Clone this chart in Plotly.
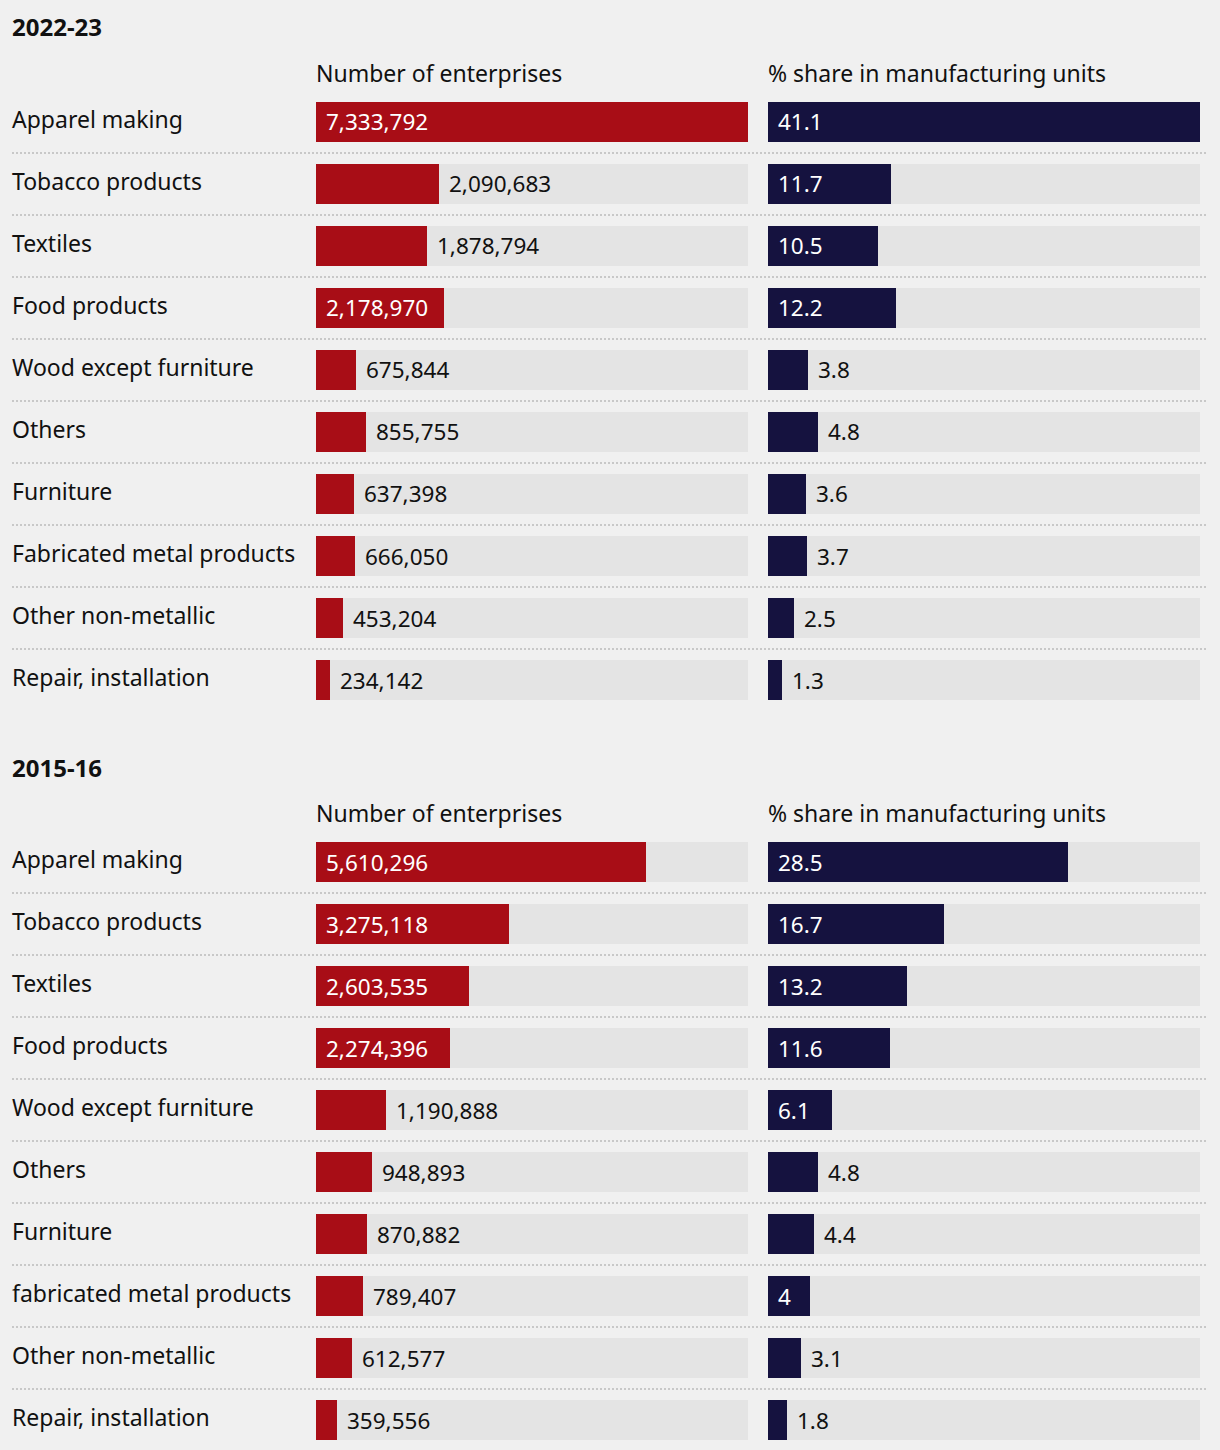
import plotly.graph_objects as go

# ---------------- data ----------------
SECTIONS = ["2022-23", "2015-16"]
COL_HEADERS = ["Number of enterprises", "% share in manufacturing units"]

categories_2022 = ["Apparel making", "Tobacco products", "Textiles", "Food products",
                   "Wood except furniture", "Others", "Furniture",
                   "Fabricated metal products", "Other non-metallic", "Repair, installation"]
enterprises_2022 = [7333792, 2090683, 1878794, 2178970, 675844, 855755, 637398, 666050, 453204, 234142]
share_2022 = [41.1, 11.7, 10.5, 12.2, 3.8, 4.8, 3.6, 3.7, 2.5, 1.3]

categories_2015 = ["Apparel making", "Tobacco products", "Textiles", "Food products",
                   "Wood except furniture", "Others", "Furniture",
                   "fabricated metal products", "Other non-metallic", "Repair, installation"]
enterprises_2015 = [5610296, 3275118, 2603535, 2274396, 1190888, 948893, 870882, 789407, 612577, 359556]
share_2015 = [28.5, 16.7, 13.2, 11.6, 6.1, 4.8, 4.4, 4, 3.1, 1.8]

# ---------------- style ----------------
W, H = 1220, 1450
BG = "#f0f0f0"
TRACK = "#e4e4e4"
RED = "#a80d16"
NAVY = "#15123f"
TEXT = "#111111"
SEP = "#c8c8c8"
FONT = "Noto Sans"
FS_VAL = 22.5
FS_LAB = 23
FS_TITLE = 24
BAR_PX = 40
PITCH = 62
BAR_W = BAR_PX / PITCH
HALF = BAR_W / 2

RED_COL = (316, 748)
NAVY_COL = (768, 1200)
SECTION_BAR_TOP = [102, 842]
TITLE_Y = [27, 767]
HEADER_Y = [73, 813]


def py(px):
    return 1 - px / H


def px_x(px):
    return px / W


def fmt_int(v):
    return f"{v:,}"


def fmt_share(v):
    return f"{v:g}"


def text_w(s):
    return sum(5.3 if c in ",." else 12.9 for c in s)


fig = go.Figure()

data = [
    (categories_2022, enterprises_2022, share_2022),
    (categories_2015, enterprises_2015, share_2015),
]
RED_MAX = max(enterprises_2022 + enterprises_2015)
NAVY_MAX = max(share_2022 + share_2015)

annotations = []
shapes = []

for s, (cats, ents, shares) in enumerate(data):
    yname = "y" if s == 0 else "y2"
    xr = "x" if s == 0 else "x3"
    xn = "x2" if s == 0 else "x4"
    n = len(cats)
    pos = list(range(n))

    for xa, vals, vmax, color, fmt, col in [
        (xr, ents, RED_MAX, RED, fmt_int, RED_COL),
        (xn, shares, NAVY_MAX, NAVY, fmt_share, NAVY_COL),
    ]:
        fig.add_trace(go.Bar(x=[vmax] * n, y=pos, orientation="h", width=BAR_W,
                             marker=dict(color=TRACK, line=dict(width=0)),
                             xaxis=xa, yaxis=yname, hoverinfo="skip", showlegend=False))
        fig.add_trace(go.Bar(x=vals, y=pos, orientation="h", width=BAR_W,
                             marker=dict(color=color, line=dict(width=0)),
                             xaxis=xa, yaxis=yname, showlegend=False,
                             hovertemplate="%{x}<extra></extra>"))
        colw = col[1] - col[0]
        for i, v in enumerate(vals):
            t = fmt(v)
            bar_px = v / vmax * colw
            inside = bar_px >= text_w(t) + 24
            annotations.append(dict(
                x=0 if inside else v, y=i, xref=xa, yref=yname,
                text=t, showarrow=False, xanchor="left", yanchor="middle",
                xshift=8 if inside else 8,
                font=dict(family=FONT, size=FS_VAL, color="white" if inside else TEXT),
            ))

    # row labels
    for i, c in enumerate(cats):
        annotations.append(dict(
            x=px_x(12), y=i, xref="paper", yref=yname, text=c, showarrow=False,
            xanchor="left", yanchor="middle", yshift=3, xshift=-2,
            font=dict(family=FONT, size=FS_LAB, color=TEXT),
        ))
    # separators
    for i in range(n - 1):
        shapes.append(dict(type="line", xref="paper", yref=yname,
                           x0=px_x(12), x1=px_x(1208), y0=i + 0.5, y1=i + 0.5,
                           line=dict(color=SEP, width=2, dash="2px,2px")))

    # titles and headers
    annotations.append(dict(
        x=px_x(12), y=py(TITLE_Y[s]), xref="paper", yref="paper", text=f"<b>{SECTIONS[s]}</b>",
        showarrow=False, xanchor="left", yanchor="middle", xshift=-2,
        font=dict(family=FONT, size=FS_TITLE, color=TEXT)))
    for col, hdr in zip([RED_COL, NAVY_COL], COL_HEADERS):
        annotations.append(dict(
            x=px_x(col[0]), y=py(HEADER_Y[s]), xref="paper", yref="paper", text=hdr,
            showarrow=False, xanchor="left", yanchor="middle", xshift=-2,
            font=dict(family=FONT, size=FS_LAB, color=TEXT)))

n_rows = len(categories_2022)
yrange = [n_rows - 1 + HALF, -HALF]


def ydom(top):
    bottom = top + (n_rows - 1) * PITCH + BAR_PX
    return [py(bottom), py(top)]


xaxis_common = dict(visible=False, fixedrange=True, showgrid=False, zeroline=False)
fig.update_layout(
    width=W, height=H,
    margin=dict(l=0, r=0, t=0, b=0),
    paper_bgcolor=BG, plot_bgcolor="rgba(0,0,0,0)",
    barmode="overlay", bargap=0,
    font=dict(family=FONT, size=FS_VAL, color=TEXT),
    xaxis=dict(domain=[px_x(RED_COL[0]), px_x(RED_COL[1])], range=[0, RED_MAX], anchor="y", **xaxis_common),
    xaxis2=dict(domain=[px_x(NAVY_COL[0]), px_x(NAVY_COL[1])], range=[0, NAVY_MAX], anchor="y", **xaxis_common),
    xaxis3=dict(domain=[px_x(RED_COL[0]), px_x(RED_COL[1])], range=[0, RED_MAX], anchor="y2", **xaxis_common),
    xaxis4=dict(domain=[px_x(NAVY_COL[0]), px_x(NAVY_COL[1])], range=[0, NAVY_MAX], anchor="y2", **xaxis_common),
    yaxis=dict(domain=ydom(SECTION_BAR_TOP[0]), range=yrange, **xaxis_common),
    yaxis2=dict(domain=ydom(SECTION_BAR_TOP[1]), range=yrange, **xaxis_common),
    annotations=annotations,
    shapes=shapes,
    hovermode="closest",
)

fig.write_html(
    "out.html",
    config={"displayModeBar": False},
    post_script="document.body.style.margin='0';document.body.style.background='%s';" % BG,
)
